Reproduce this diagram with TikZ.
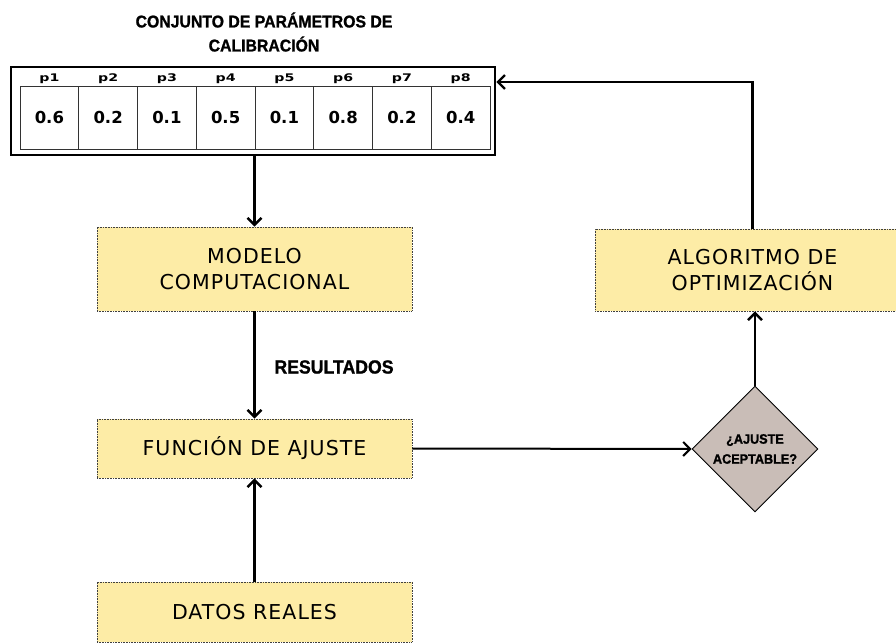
\documentclass[tikz,border=0pt]{standalone}
\usepackage{fontspec}
\usetikzlibrary{arrows.meta,shapes.geometric}
\setmainfont{DejaVu Sans}[LetterSpace=5]
\newfontfamily\headfont[FakeStretch=0.93,FakeBold=1.2]{Liberation Sans}
\newfontfamily\widefont[FakeStretch=1.35]{DejaVu Sans}
\newfontfamily\valfont{DejaVu Sans}
\definecolor{boxfill}{HTML}{FDECA6}
\definecolor{decfill}{HTML}{C9BDB7}
\begin{document}
\begin{tikzpicture}[x=1pt,y=-1pt,
  box/.style={draw=black!75, line width=0.8pt, dash pattern=on 0.8pt off 0.8pt,
    fill=boxfill, minimum width=315pt, inner sep=0pt, align=center,
    font=\fontsize{20.5}{26}\selectfont},
  arr/.style={line width=2.4pt, -{Straight Barb[length=7pt,width=14pt]}},
  head/.style={font=\headfont\bfseries\fontsize{17}{24}\selectfont, align=center, inner sep=0pt},
  cell/.style={draw=black!80, line width=0.9pt, minimum width=58.75pt,
    minimum height=63pt, inner sep=0pt, font=\valfont\bfseries\fontsize{16.5}{18}\selectfont},
  plabel/.style={font=\widefont\bfseries\fontsize{10.5}{12}\selectfont, inner sep=0pt}]
\useasboundingbox (0,0) rectangle (896,644);

% title of the parameter table
\node[head] (title) at (264,32) {CONJUNTO DE PARÁMETROS DE\\CALIBRACIÓN};

% parameter table
\node[draw, line width=2.5pt, minimum width=484pt, minimum height=88pt, inner sep=0pt] (params) at (253,111) {};
\foreach \v [count=\i] in {0.6,0.2,0.1,0.5,0.1,0.8,0.2,0.4} {
  \node[cell] (c\i) at ({20+58.75*(\i-0.5)},117.5) {\v};
  \node[plabel, anchor=base] (p\i) at ({20+58.75*(\i-0.5)},82) {p\i};
}

% process boxes
\node[box, minimum height=84pt] (modelo) at (254.5,269) {MODELO\\COMPUTACIONAL};
\node[box, minimum height=82pt] (algo) at (752.5,270) {ALGORITMO DE\\OPTIMIZACIÓN};
\node[box, minimum height=59pt] (func) at (254.5,448.5) {FUNCIÓN DE AJUSTE};
\node[box, minimum height=60pt] (datos) at (254.5,612) {DATOS REALES};

% decision
\node[diamond, draw=black, line width=0.9pt, fill=decfill, minimum width=126pt,
  minimum height=126pt, inner sep=0pt] (dec) at (755,449) {};
\node[head, font=\headfont\bfseries\fontsize{13.6}{20}\selectfont] (dectext) at (dec.center) {¿AJUSTE\\ACEPTABLE?};

\node[head, font=\headfont\bfseries\fontsize{19}{24}\selectfont] (res) at (334,367) {RESULTADOS};

% connectors
\draw[arr] (params.south -| modelo.north) -- (modelo.north);
\draw[arr] (modelo.south) -- (func.north);
\draw[arr] (datos.north) -- (func.south);
\draw[arr, line width=2pt] (func.east) -- (dec.west);
\draw[arr] (dec.north) -- (dec.north |- algo.south);
\draw[arr] (algo.north) |- ([yshift=29pt]params.east);
\end{tikzpicture}
\end{document}
